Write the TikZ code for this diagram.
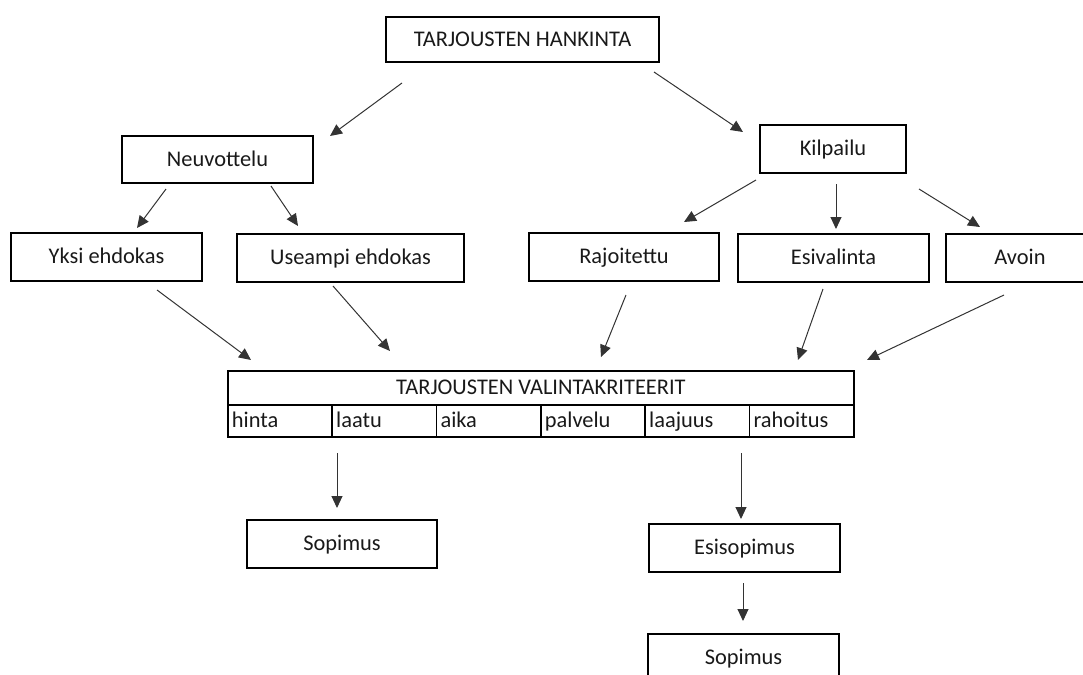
\documentclass[tikz,border=0pt]{standalone}
\usepackage{fontspec}
\setmainfont{Carlito}
\usetikzlibrary{arrows.meta}
\begin{document}
\begin{tikzpicture}[x=0.5pt,y=-0.5pt,
        box/.style={draw,line width=0.9pt,inner sep=0pt,text height=8.5pt,text depth=2pt,font=\fontsize{11.2pt}{13pt}\selectfont,text=black!90},
        solu/.style={box,anchor=north west,minimum width=52.17pt,minimum height=16pt,text width=48.17pt,inner xsep=2pt,align=left},
        nuoli/.style={-{Triangle[width=5.5pt,length=6pt]},line width=0.5pt,draw=black!80}]
    \useasboundingbox (0,0) rectangle (1083,675);
    % laatikot
    \node[box,minimum width=136.5pt,minimum height=22.5pt] (hankinta) at (522.5,39.5) {TARJOUSTEN HANKINTA};
    \node[box,minimum width=95.5pt,minimum height=23.5pt] (neuvottelu) at (217.5,159.5) {Neuvottelu};
    \node[box,minimum width=73pt,minimum height=24pt] (kilpailu) at (833,149) {Kilpailu};
    \node[box,minimum width=95.5pt,minimum height=24pt] (yksi) at (106.5,257) {Yksi ehdokas};
    \node[box,minimum width=113.5pt,minimum height=24pt] (useampi) at (350.5,258) {Useampi ehdokas};
    \node[box,minimum width=95pt,minimum height=24pt] (rajoitettu) at (624,257) {Rajoitettu};
    \node[box,minimum width=95.5pt,minimum height=24pt] (esivalinta) at (833.5,258) {Esivalinta};
    \node[box,minimum width=74pt,minimum height=24pt] (avoin) at (1020,258) {Avoin};
    % kriteerit
    \node[box,anchor=north west,minimum width=313pt,minimum height=17pt] (kriteerit) at (227,370) {TARJOUSTEN VALINTAKRITEERIT};
    \foreach \sana [count=\i from 0] in {hinta,laatu,aika,palvelu,laajuus,rahoitus}
        \node[solu] (k\i) at ({227+\i*104.33},404) {\sana};
    \node[box,minimum width=95pt,minimum height=24pt] (sopimus) at (342,544) {Sopimus};
    \node[box,minimum width=95.5pt,minimum height=24pt] (esisopimus) at (744.5,548) {Esisopimus};
    \node[box,minimum width=95.5pt,minimum height=24pt] (sopimus2) at (743.5,658) {Sopimus};
    % nuolet
    \coordinate (h1) at (402,83);   \coordinate (h1k) at (330,136);
    \coordinate (h2) at (654,72);   \coordinate (h2k) at (743,132);
    \coordinate (n1) at (166,189);  \coordinate (n1k) at (137,228);
    \coordinate (n2) at (271,186);  \coordinate (n2k) at (298,226);
    \coordinate (p1) at (756,180);  \coordinate (p1k) at (684,222);
    \coordinate (p2) at (836,184);  \coordinate (p2k) at (836,229);
    \coordinate (p3) at (919,189);  \coordinate (p3k) at (980,227);
    \coordinate (y1) at (157,290);  \coordinate (y1k) at (251,360);
    \coordinate (u1) at (333,286);  \coordinate (u1k) at (390,351);
    \coordinate (r1) at (626,295);  \coordinate (r1k) at (601,357);
    \coordinate (e1) at (823,289);  \coordinate (e1k) at (798,360);
    \coordinate (a1) at (1004,295); \coordinate (a1k) at (867,360);
    \coordinate (s1) at (337,453);  \coordinate (s1k) at (337,508);
    \coordinate (s2) at (741,453);  \coordinate (s2k) at (741,519);
    \coordinate (s3) at (743,583);  \coordinate (s3k) at (743,621);
    \foreach \alku in {h1,h2,n1,n2,p1,p2,p3,y1,u1,r1,e1,a1,s1,s2,s3}
        \draw[nuoli] (\alku) -- (\alku k);
\end{tikzpicture}
\end{document}
